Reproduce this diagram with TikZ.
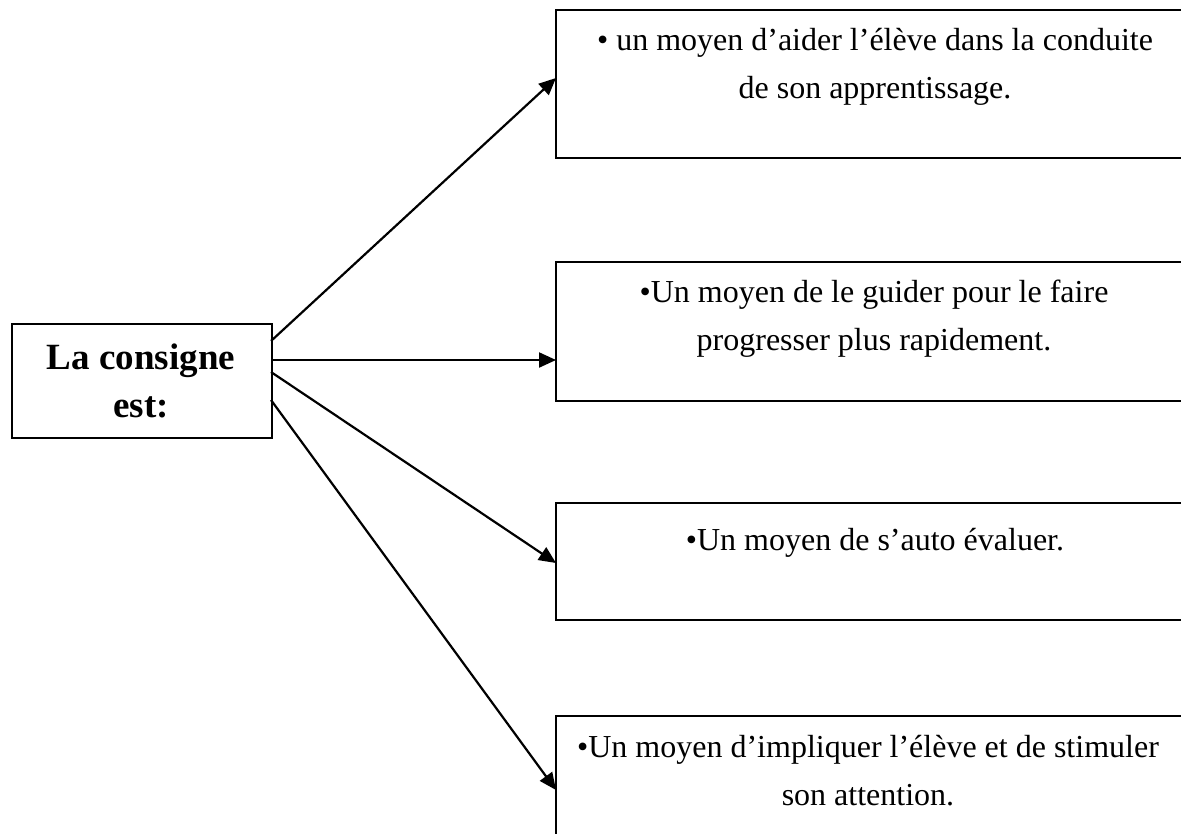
\documentclass[tikz,border=0pt]{standalone}
\usepackage{fontspec}
\setmainfont{Liberation Serif}
\usetikzlibrary{arrows.meta}
\begin{document}
\begin{tikzpicture}[x=1pt,y=-1pt,
  boxline/.style={draw=black,line width=2.2pt,fill=none},
  item/.style={font=\fontsize{32}{48}\selectfont,align=center,inner sep=0pt,anchor=base},
  conn/.style={line width=2.2pt,-{Triangle[length=17pt,width=15pt]}}]
\useasboundingbox (0,0) rectangle (1181,833);
\clip (0,0) rectangle (1181,833);
\fill[white] (0,0) rectangle (1181,833);
% left box
\node (c) [boxline,anchor=north west,minimum width=260pt,minimum height=114pt,inner sep=0pt] at (11,323) {};
\node (ct) [font=\fontsize{37}{48}\selectfont\bfseries,align=center,inner sep=0pt,anchor=base] at (141,417) {La consigne\\est:};
% right boxes
\node (b1) [boxline,anchor=north west,minimum width=700pt,minimum height=148pt,inner sep=0pt] at (555,9) {};
\node (b2) [boxline,anchor=north west,minimum width=700pt,minimum height=139pt,inner sep=0pt] at (555,261) {};
\node (b3) [boxline,anchor=north west,minimum width=700pt,minimum height=117pt,inner sep=0pt] at (555,502) {};
\node (b4) [boxline,anchor=north west,minimum width=700pt,minimum height=160pt,inner sep=0pt] at (555,715) {};
\node (t1) [item] at (875,98) {• un moyen d’aider l’élève dans la conduite\\de son apprentissage.};
\node (t2) [item] at (874,350) {•Un moyen de le guider pour le faire\\progresser plus rapidement.};
\node (t3) [item] at (875,550) {•Un moyen de s’auto évaluer.};
\node (t4) [item] at (868,805) {•Un moyen d’impliquer l’élève et de stimuler\\son attention.};
% connector ends
\coordinate (s1) at (271,341);
\coordinate (s2) at (271,360);
\coordinate (s3) at (271,372);
\coordinate (s4) at (271,400);
\coordinate (e1) at (556,78);
\coordinate (e2) at (556,360);
\coordinate (e3) at (556,563);
\coordinate (e4) at (556,790);
\draw[conn] (s1) -- (e1);
\draw[conn] (s2) -- (e2);
\draw[conn] (s3) -- (e3);
\draw[conn] (s4) -- (e4);
\end{tikzpicture}
\end{document}
